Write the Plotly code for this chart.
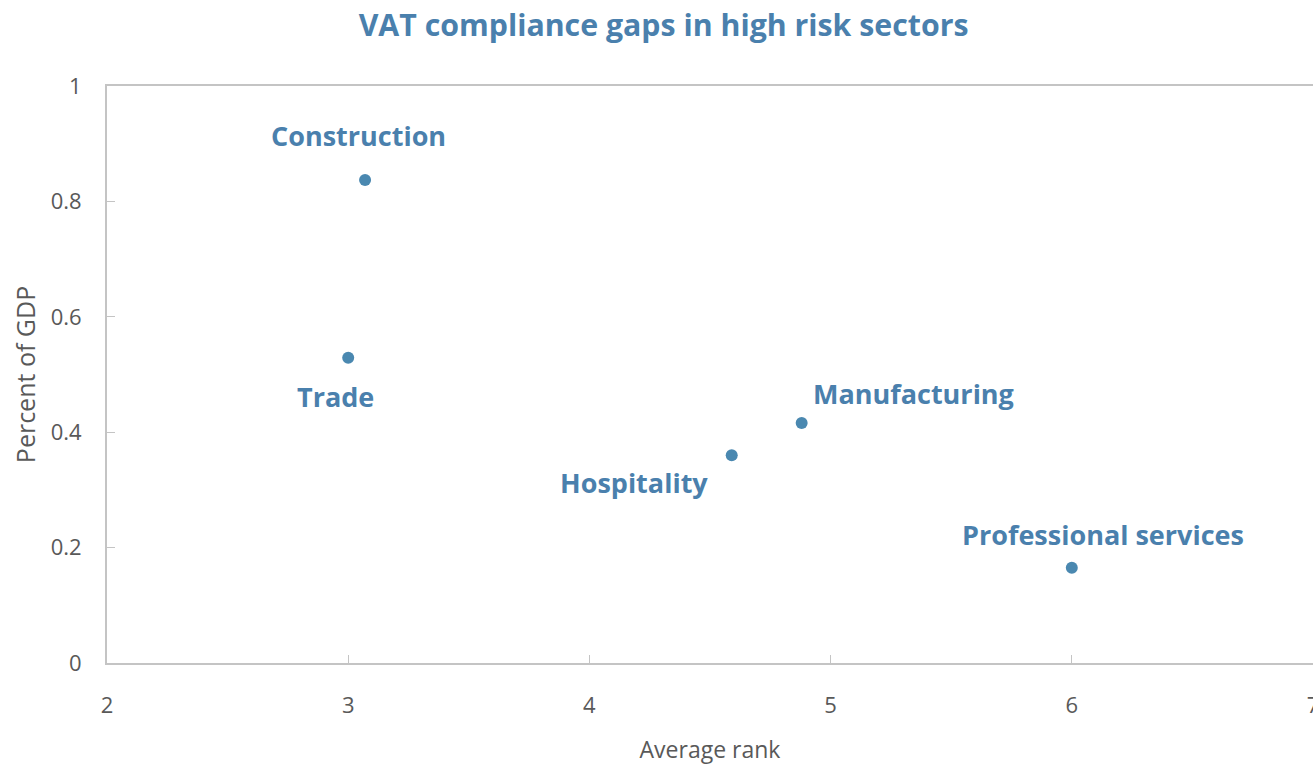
import plotly.graph_objects as go

sectors = ["Construction", "Trade", "Hospitality", "Manufacturing", "Professional services"]
avg_rank = [3.07, 3.0, 4.59, 4.88, 6.0]
pct_gdp = [0.837, 0.529, 0.360, 0.416, 0.165]
label_dx = [-7, -13, -98, 112, 31]
label_dy = [45, -39, -27, 29, 33]

BLUE = "#4a80ad"
GRAY = "#595959"
LINE = "#c4c4c4"

fig = go.Figure()
fig.add_trace(go.Scatter(
    x=avg_rank, y=pct_gdp, mode="markers",
    marker=dict(size=12, color="#4a88b0"),
    hoverinfo="text", text=sectors, showlegend=False,
))
for s, x, y, dx, dy in zip(sectors, avg_rank, pct_gdp, label_dx, label_dy):
    fig.add_annotation(x=x, y=y, text="<b>%s</b>" % s, showarrow=False,
                       xshift=dx, yshift=dy,
                       font=dict(family="Open Sans", size=27, color=BLUE))

fig.update_layout(
    width=1313, height=765,
    margin=dict(l=107, r=0, t=86, b=102, autoexpand=False),
    paper_bgcolor="white", plot_bgcolor="white",
    title=dict(text="<b>VAT compliance gaps in high risk sectors</b>",
               x=0.5054, xanchor="center", y=0.967, yanchor="middle",
               font=dict(family="Open Sans", size=30.3, color=BLUE)),
    font=dict(family="Open Sans", color=GRAY),
)
fig.update_xaxes(range=[2, 7], dtick=1, showgrid=False, zeroline=False,
                 showline=True, linecolor=LINE, linewidth=2, mirror=True,
                 ticks="inside", ticklen=8, tickcolor=LINE, tickwidth=1,
                 ticklabelstandoff=22, automargin=True, ticklabeloverflow="allow",
                 tickfont=dict(size=22, color=GRAY),
                 title=dict(text="Average rank", font=dict(size=23, color=GRAY), standoff=26))
fig.update_yaxes(range=[0, 1], dtick=0.2, showgrid=False, zeroline=False,
                 showline=True, linecolor=LINE, linewidth=2, mirror=True,
                 ticks="inside", ticklen=8, tickcolor=LINE, tickwidth=1,
                 ticklabelstandoff=19, automargin=True,
                 tickfont=dict(size=22, color=GRAY),
                 title=dict(text="Percent of GDP", font=dict(size=25, color=GRAY), standoff=8))

fig.write_html("out.html", config={"displayModeBar": False})

# remove the default page margin so the figure fills the window exactly
with open("out.html", "r", encoding="utf-8") as f:
    html = f.read()
html = html.replace("<body>", '<body style="margin:0;overflow:hidden">', 1)
with open("out.html", "w", encoding="utf-8") as f:
    f.write(html)
